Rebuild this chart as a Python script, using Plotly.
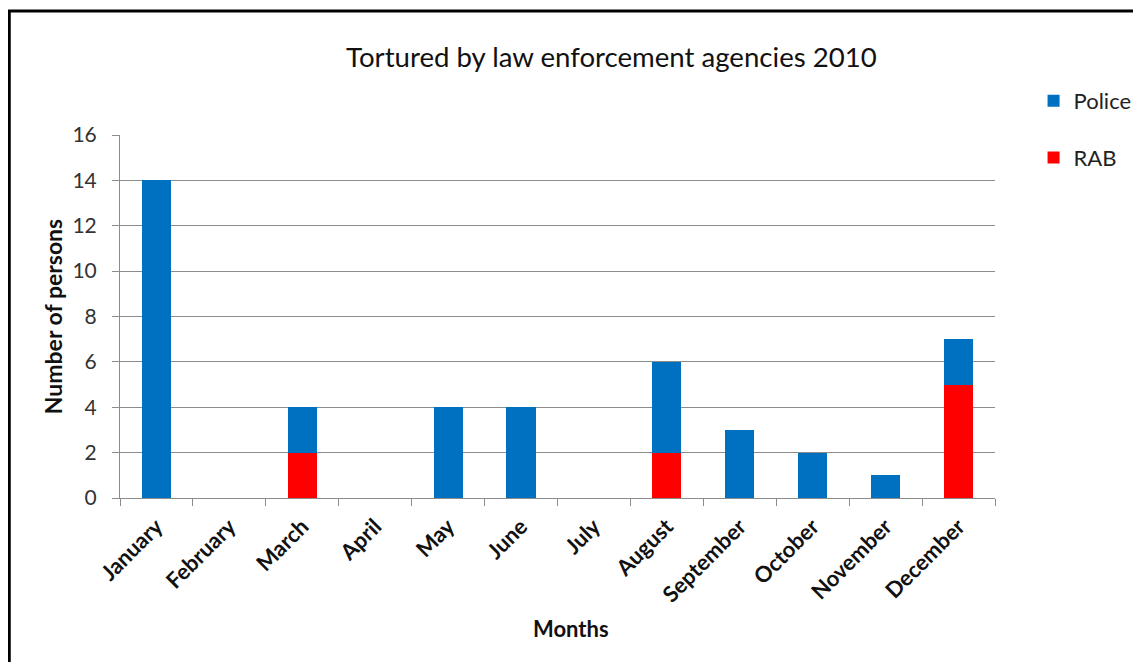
import plotly.graph_objects as go

months = ["January", "February", "March", "April", "May", "June", "July",
          "August", "September", "October", "November", "December"]
police = [14, 0, 2, 0, 4, 4, 0, 4, 3, 2, 1, 2]
rab = [0, 0, 2, 0, 0, 0, 0, 2, 0, 0, 0, 5]

FONT = "Lato"
W, H = 1141, 662
# figure-pixel coordinates (page body adds an 8px offset)
L, R, T, B = 112, 997, 127, 490
pw, ph = R - L, B - T

def px_x(x):
    return (x - L) / pw

def px_y(y):
    return (B - y) / ph

fig = go.Figure()
fig.add_trace(go.Bar(name="RAB", x=months, y=rab, marker_color="#FF0000",
                     marker_line_width=0, legendrank=2, legendgroup="r"))
fig.add_trace(go.Bar(name="Police", x=months, y=police, marker_color="#0070C0",
                     marker_line_width=0, legendrank=1, legendgroup="p"))

fig.update_layout(
    width=W, height=H, autosize=False,
    margin=dict(l=L, r=W - R, t=T, b=H - B),
    barmode="stack", bargap=0.6,
    paper_bgcolor="white", plot_bgcolor="white",
    font=dict(family=FONT, color="#222222", size=16),
    title=dict(text="Tortured by law enforcement agencies 2010",
               x=px_x(609), xref="paper", xanchor="center",
               y=1 - 49 / H, yanchor="middle",
               font=dict(family=FONT, size=27.6, color="#111111")),
    legend=dict(x=px_x(1036), y=px_y(72), xanchor="left", yanchor="top",
                xref="paper", yref="paper", tracegroupgap=25,
                font=dict(family=FONT, size=22, color="#222222"),
                bgcolor="rgba(0,0,0,0)"),
    xaxis=dict(showline=True, linecolor="#8c8c8c", linewidth=1,
               ticks="outside", tickson="boundaries", ticklen=7,
               tickcolor="#8c8c8c", tickangle=-45, ticklabelstandoff=6,
               tickfont=dict(family=FONT, size=22, color="#111111", weight="bold")),
    yaxis=dict(range=[0, 16], dtick=2, showline=True, linecolor="#8c8c8c",
               linewidth=1, ticks="outside", ticklen=7, tickcolor="#8c8c8c",
               ticklabelstandoff=11,
               showgrid=True, gridcolor="#8c8c8c", gridwidth=1, zeroline=False,
               tickfont=dict(family=FONT, size=21, color="#333333"),
               title=dict(text="Number of persons", standoff=3,
                          font=dict(family=FONT, size=23, color="#111111", weight="bold"))),
    annotations=[dict(text="Months", xref="paper", yref="paper",
                      x=px_x(568), y=px_y(620), xanchor="center", yanchor="middle",
                      showarrow=False,
                      font=dict(family=FONT, size=22, color="#111111", weight="bold"))],
    shapes=[dict(type="rect", xref="paper", yref="paper",
                 x0=px_x(0), x1=px_x(1160), y0=px_y(680), y1=px_y(3),
                 line=dict(color="black", width=3), fillcolor="rgba(0,0,0,0)")],
)

fig.write_html("out.html")
